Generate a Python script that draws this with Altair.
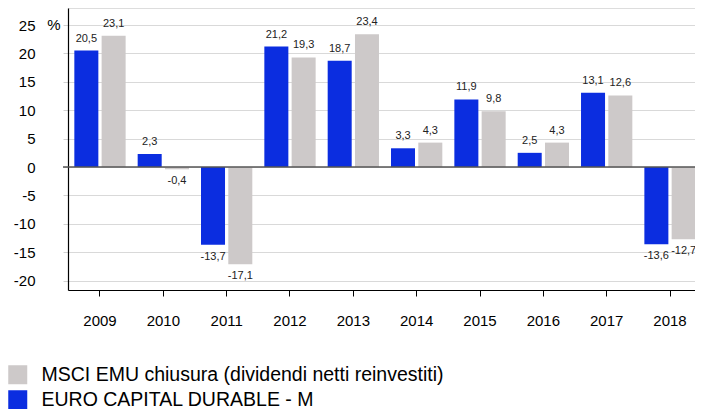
import altair as alt
import pandas as pd

years = ["2009", "2010", "2011", "2012", "2013", "2014", "2015", "2016", "2017", "2018"]
fund_name = "EURO CAPITAL DURABLE - M"
index_name = "MSCI EMU chiusura (dividendi netti reinvestiti)"
fund_values = [20.5, 2.3, -13.7, 21.2, 18.7, 3.3, 11.9, 2.5, 13.1, -13.6]
index_values = [23.1, -0.4, -17.1, 19.3, 23.4, 4.3, 9.8, 4.3, 12.6, -12.7]
y_ticks = [-20, -15, -10, -5, 0, 5, 10, 15, 20, 25]
unit_label = ["%"]

series_order = [fund_name, index_name]
legend_order = [index_name, fund_name]
blue = "#0b2de0"
gray = "#cdc9c9"

rows = []
for i, yr in enumerate(years):
    rows.append({"year": yr, "series": fund_name, "value": fund_values[i]})
    rows.append({"year": yr, "series": index_name, "value": index_values[i]})
df = pd.DataFrame(rows)

W, H = 634, 282
FONT = "Liberation Sans"

x_enc = alt.X(
    "year:N",
    sort=years,
    scale=alt.Scale(paddingInner=0.19, paddingOuter=0.1),
    axis=alt.Axis(
        title=None, labelAngle=0, labelFontSize=15, labelColor="#000",
        labelPadding=17, tickSize=6, tickColor="#000", domainColor="#000",
        domainWidth=1.2, grid=False, labelFont=FONT,
    ),
)
xoff_enc = alt.XOffset("series:N", sort=series_order, scale=alt.Scale(paddingInner=0.12))
y_enc = alt.Y(
    "value:Q",
    scale=alt.Scale(domain=[-21.65, 28], nice=False, zero=False),
    axis=alt.Axis(
        title=None, values=y_ticks, labelFontSize=15, labelColor="#000",
        labelPadding=28, tickSize=5, tickColor="#d0d0d0", domainColor="#000",
        domainWidth=1.2, grid=True, gridColor="#d9d9d9", gridWidth=1,
        labelFont=FONT, labelOverlap=False,
        labelExpr="replace(toString(datum.value), '.', ',')",
    ),
)

base = alt.Chart(df).transform_calculate(
    label="replace(toString(datum.value), '.', ',')"
)

bars = base.mark_bar().encode(
    x=x_enc,
    xOffset=xoff_enc,
    y=y_enc,
    color=alt.Color(
        "series:N",
        scale=alt.Scale(domain=legend_order, range=[gray, blue]),
        legend=alt.Legend(
            title=None, orient="none", legendX=-60, legendY=357,
            direction="vertical", symbolType="square", symbolSize=361,
            symbolStrokeWidth=0, labelFontSize=19.5, labelOffset=14,
            rowPadding=4, labelColor="#000", padding=0, labelLimit=700,
            labelFont=FONT,
        ),
    ),
)

pos_text = base.transform_filter("datum.value >= 0").mark_text(
    baseline="alphabetic", dy=-9, fontSize=11, color="#222", font=FONT
).encode(x=alt.X("year:N", sort=years), xOffset=alt.XOffset("series:N", sort=series_order), y=y_enc, text="label:N")

neg_text = base.transform_filter("datum.value < 0").mark_text(
    baseline="top", dy=6, fontSize=11, color="#222", font=FONT
).encode(x=alt.X("year:N", sort=years), xOffset=alt.XOffset("series:N", sort=series_order), y=y_enc, text="label:N")

zero_rule = alt.Chart(pd.DataFrame({"value": [0]})).mark_rule(
    color="#555555", strokeWidth=1.5
).encode(y=y_enc, x=alt.value(-5), x2=alt.value(W))

pct = alt.Chart(pd.DataFrame({"t": unit_label, "value": [y_ticks[-1]]})).mark_text(
    fontSize=15, align="center", baseline="middle", color="#000", font=FONT
).encode(x=alt.value(-14), y=y_enc, text="t:N")

chart = alt.layer(bars, zero_rule, pos_text, neg_text, pct).properties(
    width=W, height=H,
    autosize=alt.AutoSizeParams(type="none"),
    padding={"left": 60, "top": 0, "right": -7, "bottom": 119},
).configure_view(stroke=None).configure(font=FONT)

chart.save("out.html", embed_options={"renderer": "svg", "actions": False})
